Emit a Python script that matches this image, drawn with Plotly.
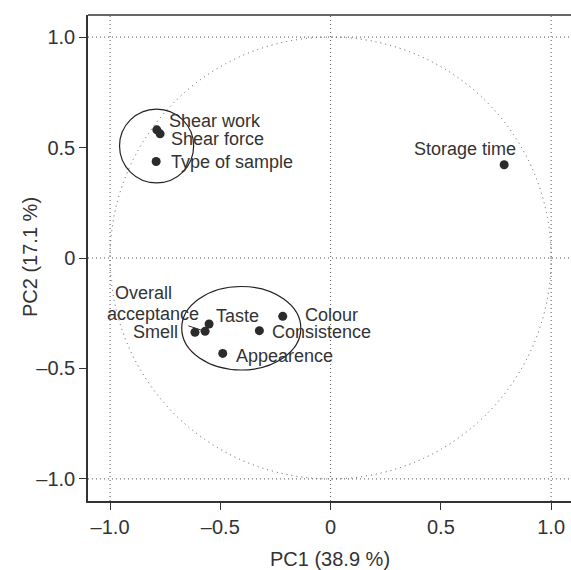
import plotly.graph_objects as go

# ---- data ----
variables = ["Shear work", "Shear force", "Type of sample", "Storage time",
             "Smell", "Overall acceptance", "Taste", "Consistence", "Colour", "Appearence"]
pc1 = [-0.788, -0.773, -0.791, 0.787, -0.615, -0.569, -0.551, -0.323, -0.217, -0.489]
pc2 = [0.580, 0.562, 0.437, 0.422, -0.336, -0.332, -0.299, -0.329, -0.264, -0.432]
tick_vals = [-1.0, -0.5, 0.0, 0.5, 1.0]
tick_text = ["\u20131.0", "\u20130.5", "0", "0.5", "1.0"]
x_title = "PC1 (38.9 %)"
y_title = "PC2 (17.1 %)"
# group ellipses: centre x, centre y, radius x, radius y
group_cx = [-0.789, -0.405]
group_cy = [0.507, -0.318]
group_rx = [0.168, 0.270]
group_ry = [0.167, 0.189]

# ---- styling / label placement (pixels) ----
TXT = "#333333"
FONT = "Liberation Sans, Arial, sans-serif"
label_style = {
    "Shear work":        dict(xanchor="left", xshift=10, yshift=9),
    "Shear force":       dict(xanchor="left", xshift=9, yshift=-5),
    "Type of sample":    dict(xanchor="left", xshift=13, yshift=-1),
    "Storage time":      dict(xanchor="center", xshift=-39, yshift=16),
    "Smell":             dict(xanchor="right", xshift=-15, yshift=0),
    "Taste":             dict(xanchor="left", xshift=5, yshift=8),
    "Consistence":       dict(xanchor="left", xshift=11, yshift=-1),
    "Colour":            dict(xanchor="left", xshift=20, yshift=1),
    "Appearence":        dict(xanchor="left", xshift=11, yshift=-3),
}

fig = go.Figure()
fig.add_trace(go.Scatter(
    x=pc1, y=pc2, mode="markers",
    marker=dict(size=9, color="#2b2b2b"),
    hovertext=variables, showlegend=False, cliponaxis=False,
))

annotations = []
for name, x, y in zip(variables, pc1, pc2):
    if name == "Overall acceptance":
        annotations.append(dict(x=x, y=y, text="acceptance", showarrow=True,
                                ax=-52, ay=-17, arrowhead=0, arrowwidth=1,
                                arrowcolor=TXT, standoff=3,
                                font=dict(size=18, color=TXT, family=FONT)))
        annotations.append(dict(x=x, y=y, text="Overall", showarrow=False,
                                xanchor="center", yanchor="middle",
                                xshift=-62, yshift=38,
                                font=dict(size=18, color=TXT, family=FONT)))
        continue
    st = label_style[name]
    annotations.append(dict(x=x, y=y, text=name, showarrow=False,
                            yanchor="middle", font=dict(size=18, color=TXT, family=FONT), **st))

# axis titles (placed as paper annotations)
annotations.append(dict(xref="paper", yref="paper", x=(330 - 88) / 483, y=-(559 - 501) / 486,
                        text=x_title, showarrow=False, xanchor="center", yanchor="middle",
                        font=dict(size=20, color=TXT, family=FONT)))
annotations.append(dict(xref="paper", yref="paper", x=-(88 - 30) / 483, y=(501 - 257) / 486,
                        text=y_title, showarrow=False, xanchor="center", yanchor="middle",
                        textangle=-90, font=dict(size=20, color=TXT, family=FONT)))

shapes = []
grid_dot = dict(color="#555555", width=1, dash="1px,3px")
circ_dot = dict(color="#555555", width=1, dash="1px,4px")
for v in [-1, 0, 1]:
    shapes.append(dict(type="line", xref="x", yref="paper", x0=v, x1=v, y0=0, y1=1,
                       line=grid_dot, layer="below"))
    shapes.append(dict(type="line", xref="paper", yref="y", x0=0, x1=1, y0=v, y1=v,
                       line=grid_dot, layer="below"))
shapes.append(dict(type="circle", xref="x", yref="y", x0=-1, x1=1, y0=-1, y1=1,
                   line=circ_dot, layer="below"))
for cx, cy, rx, ry in zip(group_cx, group_cy, group_rx, group_ry):
    shapes.append(dict(type="circle", xref="x", yref="y",
                       x0=cx - rx, x1=cx + rx, y0=cy - ry, y1=cy + ry,
                       line=dict(color="#222222", width=1.2)))
# top border
shapes.append(dict(type="line", xref="paper", yref="paper", x0=0, x1=1, y0=1, y1=1,
                   line=dict(color="#333333", width=1.5)))

axis_common = dict(
    tickvals=tick_vals, ticktext=tick_text, showgrid=False, zeroline=False,
    showline=True, linecolor="#333333", linewidth=1.5, automargin=False,
    ticks="outside", ticklen=7, tickcolor="#333333", tickwidth=1.2,
    tickfont=dict(size=20, color=TXT, family=FONT),
)

fig.update_layout(
    width=571, height=570,
    margin=dict(l=88, r=0, t=15, b=69),
    plot_bgcolor="white", paper_bgcolor="white",
    xaxis=dict(range=[-1.1, 1.09], **axis_common),
    yaxis=dict(range=[-1.1, 1.1], **axis_common),
    annotations=annotations, shapes=shapes,
)

fig.write_html(
    "out.html",
    config={"displayModeBar": False},
    post_script="document.body.style.margin='0';"
                "document.documentElement.style.overflow='hidden';"
                "document.body.style.overflow='hidden';",
)
